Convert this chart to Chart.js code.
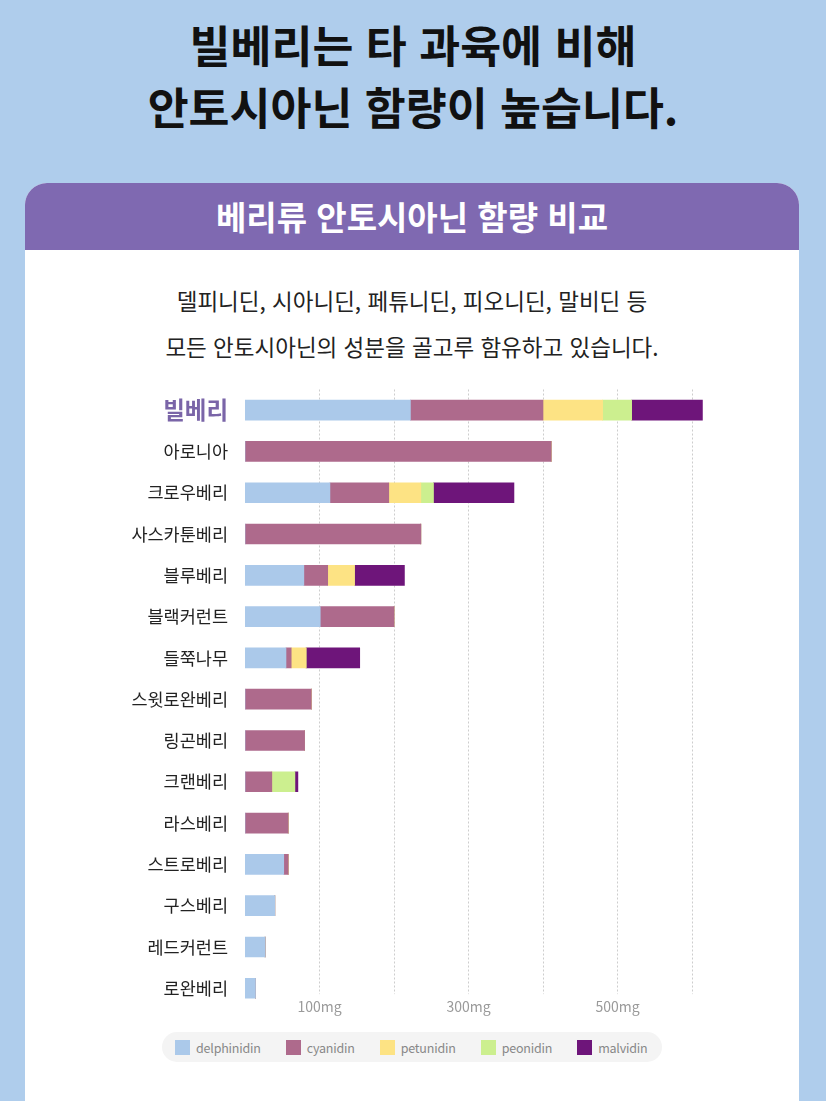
<!DOCTYPE html>
<html lang="ko">
<head>
<meta charset="utf-8">
<title>베리류 안토시아닌 함량 비교</title>
<script src="https://cdn.jsdelivr.net/npm/chart.js@4.4.1/dist/chart.umd.min.js"></script>
<style>
  body {
    margin: 0;
    width: 826px;
    height: 1101px;
    overflow: hidden;
    position: relative;
    background: #afcdec;
    font-family: "Noto Sans CJK KR", "Noto Sans", sans-serif;
  }
  .title {
    position: absolute;
    left: 0;
    top: 13px;
    width: 826px;
    margin: 0;
    text-align: center;
    font-size: 44.5px;
    line-height: 62px;
    font-weight: 700;
    color: #111;
  }
  .card {
    position: absolute;
    left: 25px;
    top: 183px;
    width: 774px;
    height: 960px;
    background: #fff;
    border-radius: 22px;
    overflow: hidden;
  }
  .card-head {
    height: 67px;
    line-height: 67px;
    background: #7f69b1;
    color: #fff;
    text-align: center;
    font-size: 33px;
    font-weight: 700;
  }
  .desc {
    position: absolute;
    left: 0;
    top: 94px;
    width: 774px;
    margin: 0;
    text-align: center;
    font-size: 22.5px;
    line-height: 46px;
    color: #222;
  }
  .chart-box {
    position: absolute;
    left: 40px;
    top: 362px;
    width: 700px;
    height: 678px;
  }
  .legend {
    position: absolute;
    left: 162px;
    top: 1032px;
    width: 500px;
    height: 30px;
    box-sizing: border-box;
    padding-left: 13px;
    border-radius: 15px;
    background: #f4f4f4;
    display: flex;
    align-items: center;
    gap: 25px;
    font-size: 12.5px;
    letter-spacing: -0.2px;
    color: #888;
  }
  .legend span.item { display: flex; align-items: center; }
  .legend i { display: inline-block; width: 15px; height: 15px; margin-right: 6px; }
</style>
</head>
<body>
<h1 class="title">빌베리는 타 과육에 비해<br>안토시아닌 함량이 높습니다.</h1>

<div class="card">
  <div class="card-head">베리류 안토시아닌 함량 비교</div>
  <p class="desc">델피니딘, 시아니딘, 페튜니딘, 피오니딘, 말비딘 등<br>모든 안토시아닌의 성분을 골고루 함유하고 있습니다.</p>
</div>

<div class="chart-box"><canvas id="chart"></canvas></div>
<div class="legend" id="legend"></div>

<script>
const berries = ['빌베리', '아로니아', '크로우베리', '사스카툰베리', '블루베리', '블랙커런트', '들쭉나무',
  '스윗로완베리', '링곤베리', '크랜베리', '라스베리', '스트로베리', '구스베리', '레드커런트', '로완베리'];

// mg per 100g
const delphinidin = [222, 0, 114, 0, 79, 101, 55, 0, 0, 0, 0, 52, 40, 27, 14];
const cyanidin    = [178, 411, 79, 236, 32, 99, 7, 89, 80, 36, 58, 6, 0, 0, 0];
const petunidin   = [80, 0, 43, 0, 36, 0, 20, 0, 0, 0, 0, 0, 0, 0, 0];
const peonidin    = [39, 0, 17, 0, 0, 0, 0, 0, 0, 31, 0, 0, 0, 0, 0];
const malvidin    = [95, 0, 108, 0, 67, 0, 72, 0, 0, 4, 0, 0, 0, 0, 0];

const xTicks = [100, 300, 500];

const series = [
  { label: 'delphinidin', data: delphinidin, color: '#abc9ea' },
  { label: 'cyanidin', data: cyanidin, color: '#ae6a8c' },
  { label: 'petunidin', data: petunidin, color: '#fde384' },
  { label: 'peonidin', data: peonidin, color: '#ccef8f' },
  { label: 'malvidin', data: malvidin, color: '#6e157a' },
];

const chart = new Chart(document.getElementById('chart'), {
  type: 'bar',
  data: {
    labels: berries,
    datasets: series.map(s => ({
      label: s.label,
      data: s.data,
      backgroundColor: s.color,
      borderWidth: 0,
      barThickness: 20,
    })),
  },
  options: {
    indexAxis: 'y',
    responsive: true,
    maintainAspectRatio: false,
    animation: false,
    layout: { padding: { top: 9.7, right: 10.75, bottom: 0, left: 0 } },
    plugins: {
      legend: { display: false },
      tooltip: { enabled: false },
    },
    scales: {
      x: {
        stacked: true,
        min: 0,
        max: 650,
        ticks: {
          stepSize: 100,
          includeBounds: false,
          mirror: true, // keeps the labels from being clipped to the axis box
          padding: -6,
          color: '#9a9a9a',
          font: { family: 'Noto Sans CJK KR', size: 14 },
          showLabelBackdrop: true,
          backdropColor: '#fff',
          backdropPadding: { top: 4, bottom: 6, left: 2, right: 2 },
          callback: v => xTicks.includes(v) ? v + 'mg' : '',
        },
        afterBuildTicks: scale => {
          scale.ticks = scale.ticks.filter(t => t.value > 0 && t.value % 100 === 0);
        },
        afterFit: scale => { scale.height = 11.9; },
        grid: { color: '#cdcdcd', lineWidth: 1, drawTicks: false },
        border: { display: false, dash: [2, 2] },
      },
      y: {
        stacked: true,
        ticks: {
          padding: 17,
          color: ctx => ctx.index === 0 ? '#7a65a8' : '#222',
          font: ctx => ctx.index === 0
            ? { family: 'Noto Sans CJK KR', size: 23.5, weight: 'bold' }
            : { family: 'Noto Sans CJK KR', size: 17.5 },
        },
        afterFit: scale => { scale.width = 205; },
        grid: { display: false, drawTicks: false },
        border: { display: false },
      },
    },
  },
});

// legend pill built from the datasets
const legendEl = document.getElementById('legend');
chart.data.datasets.forEach(ds => {
  const item = document.createElement('span');
  item.className = 'item';
  item.innerHTML = `<i style="background:${ds.backgroundColor}"></i>${ds.label}`;
  legendEl.appendChild(item);
});
</script>
</body>
</html>
